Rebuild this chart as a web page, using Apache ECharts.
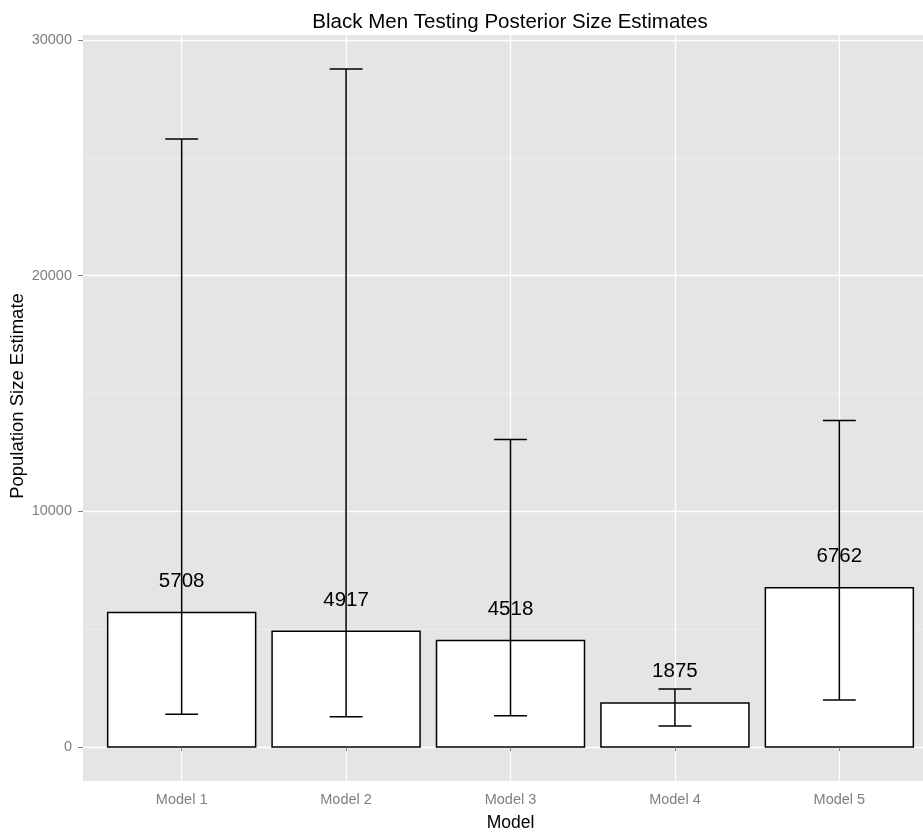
<!DOCTYPE html>
<html>
<head>
<meta charset="utf-8">
<script src="https://cdn.jsdelivr.net/npm/echarts@6/dist/echarts.min.js"></script>
<style>
  html, body { margin: 0; padding: 0; background: #ffffff; }
  #chart { width: 923px; height: 833px; }
</style>
</head>
<body>
<div id="chart"></div>
<script>
// Posterior population size estimates per model, with credible intervals
const categories = ['Model 1', 'Model 2', 'Model 3', 'Model 4', 'Model 5'];
const positions = [1, 2, 3, 4, 5];
const estimates = [5708, 4917, 4518, 1875, 6762];
const lowerBounds = [1390, 1290, 1330, 900, 2000];
const upperBounds = [25800, 28770, 13050, 2460, 13850];
const yMajorTicks = [0, 10000, 20000, 30000];
const yMinorTicks = [5000, 15000, 25000];

const FONT = '"Liberation Sans", Arial, Helvetica, sans-serif';
const GREY = '#7f7f7f';

// y range padded by 5% of the data span, x range padded by 0.6 of a slot
const yMax = Math.max(...upperBounds);
const yPad = yMax * 0.05;

const chart = echarts.init(document.getElementById('chart'), null, { renderer: 'canvas' });

const option = {
  animation: false,
  backgroundColor: '#ffffff',
  title: {
    text: 'Black Men Testing Posterior Size Estimates',
    left: 505,
    top: 7,
    textAlign: 'center',
    textStyle: { fontFamily: FONT, fontSize: 20.5, fontWeight: 'normal', color: '#000000' }
  },
  grid: {
    left: 83,
    top: 35,
    width: 855,
    height: 746,
    show: true,
    backgroundColor: '#e5e5e5',
    borderWidth: 0,
    containLabel: false,
    outerBoundsMode: 'none'
  },
  xAxis: {
    type: 'value',
    min: 0.4,
    max: 5.6,
    name: 'Model',
    nameLocation: 'middle',
    nameGap: 33,
    nameMoveOverlap: false,
    nameTextStyle: { fontFamily: FONT, fontSize: 17.5, color: '#000000' },
    axisLine: { show: false },
    axisTick: { show: true, customValues: positions, length: 4, lineStyle: { color: GREY, width: 1 } },
    axisLabel: {
      customValues: positions,
      formatter: (v) => categories[Math.round(v) - 1],
      fontFamily: FONT, fontSize: 14.5, color: GREY, margin: 11
    },
    splitLine: { show: true, lineStyle: { color: '#ffffff', width: 1.3 } }
  },
  yAxis: [
    {
      type: 'value',
      min: -yPad,
      max: yMax + yPad,
      name: 'Population Size Estimate',
      nameLocation: 'middle',
      nameRotate: 90,
      nameGap: 56,
      nameMoveOverlap: false,
      nameTextStyle: { fontFamily: FONT, fontSize: 18.5, color: '#000000', padding: [0, 0, 0, 24] },
      axisLine: { show: false },
      axisTick: { show: true, customValues: yMajorTicks, length: 5, lineStyle: { color: GREY, width: 1 } },
      axisLabel: {
        customValues: yMajorTicks,
        formatter: (v) => String(Math.round(v)),
        fontFamily: FONT, fontSize: 14.5, color: GREY, margin: 11
      },
      splitLine: { show: true, lineStyle: { color: '#ffffff', width: 1.3 } },
      z: 1
    },
    {
      type: 'value',
      min: -yPad,
      max: yMax + yPad,
      position: 'left',
      axisLine: { show: false },
      axisTick: { show: false, customValues: yMinorTicks },
      axisLabel: { show: false },
      splitLine: { show: true, lineStyle: { color: '#f2f2f2', width: 0.6 } },
      z: 0
    }
  ],
  series: [
    {
      name: 'Estimate',
      type: 'custom',
      xAxisIndex: 0,
      yAxisIndex: 0,
      z: 3,
      data: positions.map((p, i) => [p, estimates[i]]),
      encode: { x: 0, y: 1 },
      renderItem: (params, api) => {
        const x = api.value(0);
        const v = api.value(1);
        const topLeft = api.coord([x - 0.45, v]);
        const bottomRight = api.coord([x + 0.45, 0]);
        return {
          type: 'rect',
          shape: {
            x: topLeft[0],
            y: topLeft[1],
            width: bottomRight[0] - topLeft[0],
            height: bottomRight[1] - topLeft[1]
          },
          style: { fill: '#ffffff', stroke: '#000000', lineWidth: 1.5 },
          textContent: {
            style: {
              text: String(v),
              fill: '#000000',
              fontFamily: FONT,
              fontSize: 20.5
            }
          },
          textConfig: { position: 'top', distance: 20 }
        };
      }
    },
    {
      name: 'Interval',
      type: 'custom',
      xAxisIndex: 0,
      yAxisIndex: 0,
      z: 4,
      data: positions.map((p, i) => [p, lowerBounds[i], upperBounds[i]]),
      encode: { x: 0, y: [1, 2] },
      renderItem: (params, api) => {
        const x = api.value(0);
        const lo = api.coord([x, api.value(1)]);
        const hi = api.coord([x, api.value(2)]);
        const half = api.size([0.1, 0])[0];
        const style = { stroke: '#000000', lineWidth: 1.5 };
        return {
          type: 'group',
          children: [
            { type: 'line', shape: { x1: lo[0], y1: lo[1], x2: hi[0], y2: hi[1] }, style },
            { type: 'line', shape: { x1: hi[0] - half, y1: hi[1], x2: hi[0] + half, y2: hi[1] }, style },
            { type: 'line', shape: { x1: lo[0] - half, y1: lo[1], x2: lo[0] + half, y2: lo[1] }, style }
          ]
        };
      }
    }
  ]
};

chart.setOption(option);
</script>
</body>
</html>
